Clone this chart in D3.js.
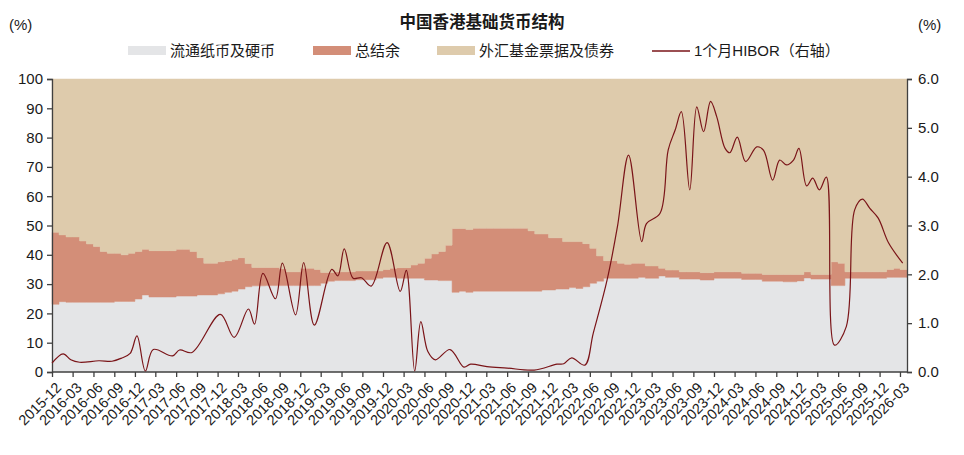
<!DOCTYPE html>
<html>
<head>
<meta charset="utf-8">
<script src="https://cdn.jsdelivr.net/npm/d3@7"></script>
<style>
  body { margin: 0; background: #fff; }
  text { font-family: "Liberation Sans", Arial, "Noto Sans CJK SC", sans-serif; fill: #1a1a1a; }
  .cjk { font-family: "Liberation Sans", "Noto Sans CJK SC", sans-serif; }
</style>
</head>
<body>
<div class="chart"></div>
<script>
// monthly categories: 2015-12 ... 2026-03
const firstMonth = new Date(2015, 11, 1);
const lastMonth = new Date(2026, 2, 1);
const months = d3.timeMonth.range(firstMonth, d3.timeMonth.offset(lastMonth, 1));

// share of monetary base (%)
const currency = [
  23.1, 24.0, 23.8, 23.8, 23.8, 23.8, 23.8, 23.8, 23.8, 24.1, 24.1, 24.1,
  24.9, 26.3, 25.6, 25.6, 25.6, 25.6, 25.9, 25.9, 25.9, 26.3, 26.3, 26.3,
  26.7, 27.2, 27.6, 28.3, 29.1, 29.4, 29.4, 29.5, 29.5, 29.5, 29.5, 29.5,
  29.5, 29.5, 29.5, 30.3, 31.0, 31.2, 31.2, 31.2, 31.5, 31.5, 31.5, 32.0,
  32.3, 32.3, 32.0, 32.0, 32.0, 32.0, 31.4, 31.4, 31.2, 31.2, 27.2, 27.6,
  27.2, 27.6, 27.6, 27.6, 27.6, 27.6, 27.6, 27.6, 27.6, 27.6, 27.6, 28.0,
  28.0, 28.3, 28.3, 28.8, 28.5, 29.1, 30.3, 31.0, 32.0, 32.0, 32.0, 32.0,
  32.0, 32.3, 32.0, 32.0, 32.8, 32.3, 32.3, 31.7, 31.7, 31.7, 31.4, 31.4,
  32.0, 32.0, 32.0, 32.0, 31.6, 31.6, 31.6, 31.0, 31.0, 31.0, 30.8, 30.8,
  31.1, 32.1, 31.7, 31.7, 31.7, 29.5, 29.5, 32.0, 32.0, 32.0, 32.0, 32.0,
  32.0, 32.3, 32.3, 32.3
];
const aggregateBalance = [
  24.6, 22.8, 22.3, 22.3, 20.9, 19.9, 19.0, 17.3, 16.7, 16.4, 15.9, 16.4,
  16.2, 15.6, 15.8, 15.8, 15.8, 15.8, 16.0, 16.0, 15.2, 12.7, 10.8, 10.8,
  10.9, 10.8, 10.9, 10.7, 7.9, 6.3, 6.3, 6.2, 6.2, 5.7, 4.7, 4.7,
  5.9, 5.9, 5.5, 3.7, 3.0, 3.0, 3.0, 3.0, 3.0, 3.0, 3.0, 2.5,
  2.7, 3.1, 3.6, 3.6, 4.5, 5.1, 7.4, 8.9, 9.9, 12.1, 21.8, 21.4,
  21.4, 21.5, 21.5, 21.5, 21.5, 21.5, 21.5, 21.5, 21.5, 20.6, 19.5, 19.1,
  17.8, 17.5, 16.2, 15.7, 16.0, 14.7, 11.9, 8.6, 6.0, 6.0, 5.1, 4.8,
  5.1, 4.8, 4.2, 4.2, 2.6, 2.5, 2.5, 2.5, 2.5, 2.5, 2.5, 2.5,
  2.2, 2.2, 2.2, 2.2, 2.1, 2.1, 2.1, 2.3, 2.3, 2.3, 2.5, 2.5,
  2.2, 2.1, 1.6, 1.6, 1.6, 8.1, 7.6, 2.2, 2.2, 2.2, 2.2, 2.2,
  2.2, 2.7, 3.1, 2.7
];
const exchangeFundPaper = [
  52.3, 53.2, 53.9, 53.9, 55.3, 56.3, 57.2, 58.9, 59.5, 59.5, 60.0, 59.5,
  58.9, 58.1, 58.6, 58.6, 58.6, 58.6, 58.1, 58.1, 58.9, 61.0, 62.9, 62.9,
  62.4, 62.0, 61.5, 61.0, 63.0, 64.3, 64.3, 64.3, 64.3, 64.8, 65.8, 65.8,
  64.6, 64.6, 65.0, 66.0, 66.0, 65.8, 65.8, 65.8, 65.5, 65.5, 65.5, 65.5,
  65.0, 64.6, 64.4, 64.4, 63.5, 62.9, 61.2, 59.7, 58.9, 56.7, 51.0, 51.0,
  51.4, 50.9, 50.9, 50.9, 50.9, 50.9, 50.9, 50.9, 50.9, 51.8, 52.9, 52.9,
  54.2, 54.2, 55.5, 55.5, 55.5, 56.2, 57.8, 60.4, 62.0, 62.0, 62.9, 63.2,
  62.9, 62.9, 63.8, 63.8, 64.6, 65.2, 65.2, 65.8, 65.8, 65.8, 66.1, 66.1,
  65.8, 65.8, 65.8, 65.8, 66.3, 66.3, 66.3, 66.7, 66.7, 66.7, 66.7, 66.7,
  66.7, 65.8, 66.7, 66.7, 66.7, 62.4, 62.9, 65.8, 65.8, 65.8, 65.8, 65.8,
  65.8, 65.0, 64.6, 65.0
];

// 1M HIBOR (%), read at turning points of the curve
const hiborDates = [
  '2015-12-01', '2016-01-19', '2016-02-22', '2016-04-01', '2016-06-25', '2016-08-22',
  '2016-10-01', '2016-11-10', '2016-12-10', '2017-01-16', '2017-02-20', '2017-05-16',
  '2017-06-16', '2017-08-10', '2017-12-13', '2018-02-12', '2018-04-16', '2018-05-13',
  '2018-06-19', '2018-08-13', '2018-09-13', '2018-11-10', '2018-12-16', '2019-02-01',
  '2019-04-19', '2019-05-16', '2019-06-13', '2019-07-22', '2019-08-28', '2019-10-10',
  '2019-12-19', '2020-02-15', '2020-03-13', '2020-04-19', '2020-05-16', '2020-06-16',
  '2020-07-19', '2020-09-22', '2020-11-22', '2020-12-22', '2021-03-04', '2021-06-01',
  '2021-09-28', '2022-01-07', '2022-02-06', '2022-03-13', '2022-05-10', '2022-06-16',
  '2022-08-16', '2022-10-01', '2022-11-19', '2023-01-16', '2023-02-06', '2023-04-07',
  '2023-05-13', '2023-06-13', '2023-07-10', '2023-08-16', '2023-09-16', '2023-10-16',
  '2023-11-16', '2023-12-13', '2024-01-19', '2024-02-09', '2024-03-13', '2024-04-19',
  '2024-06-07', '2024-07-07', '2024-08-16', '2024-09-16', '2024-10-16', '2024-11-16',
  '2024-12-10', '2025-01-13', '2025-02-09', '2025-03-10', '2025-04-10', '2025-05-16',
  '2025-07-07', '2025-08-13', '2025-09-16', '2025-10-19', '2025-11-25', '2026-01-10',
  '2026-03-13'
];
const hiborValues = [
  0.18, 0.37, 0.25, 0.20, 0.23, 0.22,
  0.28, 0.38, 0.74, 0.02, 0.46, 0.33,
  0.45, 0.40, 1.18, 0.71, 1.29, 0.98,
  2.02, 1.50, 2.23, 1.17, 2.24, 0.96,
  2.10, 1.97, 2.52, 1.92, 1.93, 1.76,
  2.65, 1.65, 2.08, 0.02, 1.03, 0.42,
  0.25, 0.46, 0.10, 0.16, 0.11, 0.08,
  0.04, 0.16, 0.17, 0.29, 0.14, 0.79,
  1.88, 2.98, 4.44, 2.67, 3.04, 3.25,
  4.55, 4.96, 5.33, 3.73, 5.43, 4.92,
  5.54, 5.23, 4.58, 4.49, 4.81, 4.31,
  4.61, 4.54, 3.93, 4.34, 4.24, 4.34,
  4.58, 3.81, 3.97, 3.73, 3.99, 0.55,
  0.93, 3.32, 3.54, 3.35, 3.15, 2.64,
  2.23
];

const seriesNames = ['流通纸币及硬币', '总结余', '外汇基金票据及债券'];
const colors = ['#e4e5e7', '#d38e78', '#decbac'];
const lineColor = '#7a1418';
const lineName = '1个月HIBOR（右轴）';
const leftTicks = [0, 10, 20, 30, 40, 50, 60, 70, 80, 90, 100];
const rightTicks = [0, 1, 2, 3, 4, 5, 6];

// svg
const W = 964, H = 455;
const plot = {left: 52, right: 907, top: 79, bottom: 372};

const svg = d3.select('.chart').append('svg')
    .attr('width', W)
    .attr('height', H);

// scales
const xScale = d3.scaleTime()
    .domain([firstMonth, d3.timeMonth.offset(lastMonth, 1)])
    .range([plot.left, plot.right]);

const yScale = d3.scaleLinear()
    .domain([0, 100])
    .range([plot.bottom, plot.top]);

const yRight = d3.scaleLinear()
    .domain([0, 6])
    .range([plot.bottom, plot.top]);

// stacked step areas
const table = months.map((m, i) => ({
    date: m,
    [seriesNames[0]]: currency[i],
    [seriesNames[1]]: aggregateBalance[i],
    [seriesNames[2]]: exchangeFundPaper[i]
}));
// closing point so the last month gets its full width
table.push({...table[table.length - 1], date: d3.timeMonth.offset(lastMonth, 1)});

const stacked = d3.stack().keys(seriesNames)(table);

const area = d3.area()
    .curve(d3.curveStepAfter)
    .x(d => xScale(d.data.date))
    .y0(d => yScale(d[0]))
    .y1(d => yScale(d[1]));

svg.append('g')
    .selectAll('path')
    .data(stacked)
    .enter()
    .append('path')
    .attr('fill', (d, i) => colors[i])
    .attr('stroke', (d, i) => colors[i])
    .attr('stroke-width', 0.5)
    .attr('d', area);

// axes
const parse = d3.timeParse('%Y-%m-%d');
const tickMonths = d3.timeMonth.range(firstMonth, d3.timeMonth.offset(lastMonth, 1), 3);

const xAxis = d3.axisBottom(xScale)
    .tickValues(tickMonths)
    .tickFormat(d3.timeFormat('%Y-%m'))
    .tickSizeOuter(0)
    .tickSize(5);

const gx = svg.append('g')
    .attr('class', 'axis x-axis')
    .attr('transform', 'translate(0,' + plot.bottom + ')')
    .call(xAxis);
gx.select('.domain').attr('d', `M${plot.left},0H${plot.right}`);
gx.selectAll('text')
    .attr('font-size', 14.5)
    .attr('text-anchor', 'end')
    .attr('dx', 0)
    .attr('dy', 0)
    .attr('transform', 'translate(4,11) rotate(-45)');

const yAxis = d3.axisLeft(yScale)
    .tickValues(leftTicks)
    .tickSizeOuter(0)
    .tickSize(5)
    .tickPadding(4);

const gy = svg.append('g')
    .attr('class', 'axis y-axis')
    .attr('transform', 'translate(' + plot.left + ',0)')
    .call(yAxis);
gy.selectAll('text').attr('font-size', 15);

const yAxisRight = d3.axisRight(yRight)
    .tickValues(rightTicks)
    .tickFormat(d3.format('.1f'))
    .tickSizeOuter(0)
    .tickSize(5)
    .tickPadding(6);

const gyr = svg.append('g')
    .attr('class', 'axis y-axis-right')
    .attr('transform', 'translate(' + plot.right + ',0)')
    .call(yAxisRight);
gyr.selectAll('text').attr('font-size', 15);

svg.selectAll('.axis path, .axis line')
    .attr('stroke', '#404040')
    .attr('stroke-width', 1.3);
svg.selectAll('.axis text').attr('fill', '#1a1a1a').attr('font-family', '"Liberation Sans", Arial, sans-serif');

// HIBOR line
const hibor = hiborDates.map((d, i) => ({date: parse(d), value: hiborValues[i]}));

const line = d3.line()
    .curve(d3.curveCatmullRom.alpha(0.5))
    .x(d => xScale(d.date))
    .y(d => yRight(d.value));

svg.append('path')
    .datum(hibor)
    .attr('fill', 'none')
    .attr('stroke', lineColor)
    .attr('stroke-width', 1.2)
    .attr('d', line);

// title and unit labels
svg.append('text')
    .attr('class', 'cjk')
    .attr('x', 482)
    .attr('y', 28)
    .attr('text-anchor', 'middle')
    .attr('font-size', 16.5)
    .attr('font-weight', 'bold')
    .text('中国香港基础货币结构');

svg.append('text')
    .attr('x', 9)
    .attr('y', 30)
    .attr('font-size', 15)
    .text('(%)');
svg.append('text')
    .attr('x', 918)
    .attr('y', 30)
    .attr('font-size', 15)
    .text('(%)');

// legend
const legendX = [128, 313, 437];
const legend = svg.append('g');

legend.selectAll('.legend-color')
    .data(seriesNames)
    .enter()
    .append('rect')
    .attr('x', (d, i) => legendX[i])
    .attr('y', 46)
    .attr('width', 38)
    .attr('height', 9)
    .attr('fill', (d, i) => colors[i]);

legend.selectAll('.legend-text')
    .data(seriesNames)
    .enter()
    .append('text')
    .attr('class', 'cjk')
    .attr('x', (d, i) => legendX[i] + 42)
    .attr('y', 56)
    .attr('font-size', 15)
    .text(d => d);

legend.append('line')
    .attr('x1', 652)
    .attr('x2', 690)
    .attr('y1', 51)
    .attr('y2', 51)
    .attr('stroke', lineColor)
    .attr('stroke-width', 1.5);
legend.append('text')
    .attr('class', 'cjk')
    .attr('x', 694)
    .attr('y', 56)
    .attr('font-size', 15)
    .text(lineName);
</script>
</body>
</html>
